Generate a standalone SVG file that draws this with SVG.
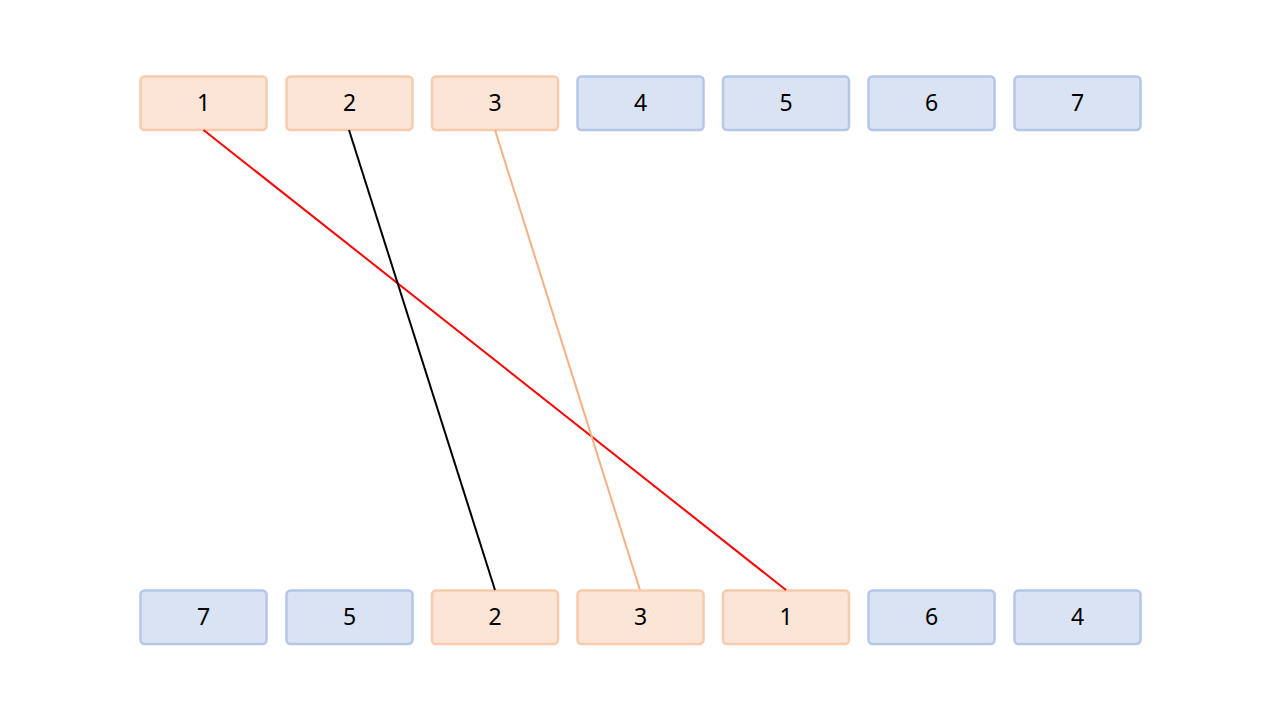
<svg xmlns="http://www.w3.org/2000/svg" width="1280" height="720" viewBox="0 0 1280 720">
<style>
.o rect{fill:#fbe5d6;stroke:#f8cbad;stroke-width:2.5}
.b rect{fill:#dae3f3;stroke:#b4c7e7;stroke-width:2.5}
text{font-family:"Noto Sans","DejaVu Sans",sans-serif;font-size:23px;fill:#000;text-anchor:middle;dominant-baseline:central}
</style>
<rect width="1280" height="720" fill="#fff"/>
<g id="top1" class="o"><rect x="140.5" y="76.5" width="126" height="53.5" rx="4"/><text x="203.5" y="102">1</text></g>
<g id="top2" class="o"><rect x="286.5" y="76.5" width="126" height="53.5" rx="4"/><text x="349.5" y="102">2</text></g>
<g id="top3" class="o"><rect x="432" y="76.5" width="126" height="53.5" rx="4"/><text x="495" y="102">3</text></g>
<g id="top4" class="b"><rect x="577.5" y="76.5" width="126" height="53.5" rx="4"/><text x="640.5" y="102">4</text></g>
<g id="top5" class="b"><rect x="723" y="76.5" width="126" height="53.5" rx="4"/><text x="786" y="102">5</text></g>
<g id="top6" class="b"><rect x="868.5" y="76.5" width="126" height="53.5" rx="4"/><text x="931.5" y="102">6</text></g>
<g id="top7" class="b"><rect x="1014.5" y="76.5" width="126" height="53.5" rx="4"/><text x="1077.5" y="102">7</text></g>
<g id="bot7" class="b"><rect x="140.5" y="590.5" width="126" height="53.5" rx="4"/><text x="203.5" y="616">7</text></g>
<g id="bot5" class="b"><rect x="286.5" y="590.5" width="126" height="53.5" rx="4"/><text x="349.5" y="616">5</text></g>
<g id="bot2" class="o"><rect x="432" y="590.5" width="126" height="53.5" rx="4"/><text x="495" y="616">2</text></g>
<g id="bot3" class="o"><rect x="577.5" y="590.5" width="126" height="53.5" rx="4"/><text x="640.5" y="616">3</text></g>
<g id="bot1" class="o"><rect x="723" y="590.5" width="126" height="53.5" rx="4"/><text x="786" y="616">1</text></g>
<g id="bot6" class="b"><rect x="868.5" y="590.5" width="126" height="53.5" rx="4"/><text x="931.5" y="616">6</text></g>
<g id="bot4" class="b"><rect x="1014.5" y="590.5" width="126" height="53.5" rx="4"/><text x="1077.5" y="616">4</text></g>
<g id="connectors" fill="none" stroke-width="2">
<line x1="203.5" y1="130" x2="786" y2="590" stroke="#ff0000"/>
<line x1="349" y1="130" x2="495" y2="590" stroke="#000000"/>
<line x1="495" y1="130" x2="640" y2="590" stroke="#f4b183"/>
</g>
</svg>
